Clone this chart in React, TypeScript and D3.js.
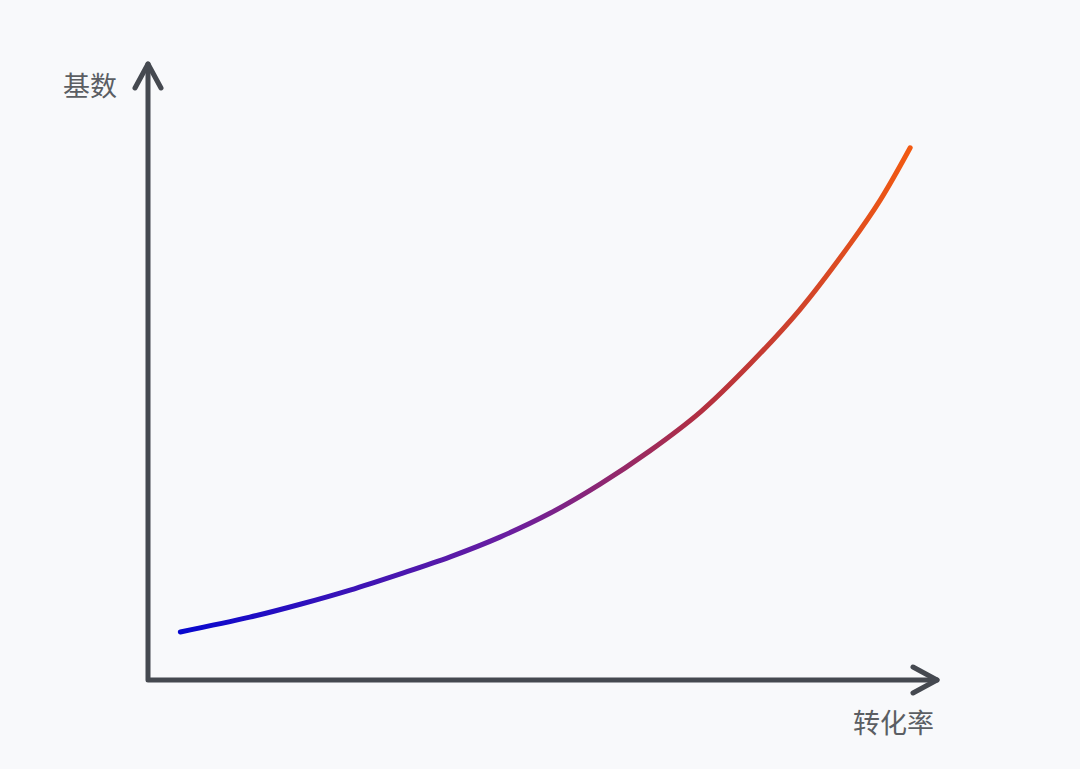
import { useRef, useEffect } from "react";
import * as d3 from "d3";

const WIDTH = 1080;
const HEIGHT = 769;

// curve samples, in axis units (0..100 on both axes)
const xValues = [4.1, 12.9, 19.3, 25.6, 31.9, 38.3, 44.6, 51.0, 57.3, 63.6, 70.0, 76.3, 82.6, 89.0, 92.8, 96.6];
const yValues = [7.8, 10.2, 12.3, 14.6, 17.2, 20.0, 23.2, 27.1, 31.8, 37.2, 43.5, 51.3, 60.1, 70.8, 77.9, 86.4];

const yLabel = "基数";
const xLabel = "转化率";

const gradientStops = [
  { offset: 0, color: "#0808cf" },
  { offset: 0.45, color: "#6a1ea0" },
  { offset: 0.72, color: "#b4303f" },
  { offset: 1, color: "#f25a12" },
];

export default function App() {
  const svgRef = useRef<SVGSVGElement>(null);

  useEffect(() => {
    if (!svgRef.current) return;
    const svg = d3.select(svgRef.current);
    svg.selectAll("*").remove();

    const axisColor = "#454950";
    const originX = 148;
    const originY = 680;

    const x = d3.scaleLinear().domain([0, 100]).range([originX, 937]);
    const y = d3.scaleLinear().domain([0, 100]).range([originY, 64]);

    svg.append("rect").attr("width", WIDTH).attr("height", HEIGHT).attr("fill", "#f8f9fb");

    // gradient along x
    const grad = svg
      .append("defs")
      .append("linearGradient")
      .attr("id", "curveGrad")
      .attr("gradientUnits", "userSpaceOnUse")
      .attr("x1", x(xValues[0]))
      .attr("y1", 0)
      .attr("x2", x(xValues[xValues.length - 1]))
      .attr("y2", 0);
    gradientStops.forEach((s) => {
      grad.append("stop").attr("offset", s.offset).attr("stop-color", s.color);
    });

    // axes
    const axes = svg
      .append("g")
      .attr("fill", "none")
      .attr("stroke", axisColor)
      .attr("stroke-width", 5)
      .attr("stroke-linecap", "round")
      .attr("stroke-linejoin", "round");

    axes
      .append("path")
      .attr("d", `M${x(0)},${y(100)} L${x(0)},${y(0)} L${x(100)},${y(0)}`);
    // arrow heads
    axes
      .append("path")
      .attr("d", `M${x(0) - 13},${y(100) + 24} L${x(0)},${y(100)} L${x(0) + 13},${y(100) + 24}`);
    axes
      .append("path")
      .attr("d", `M${x(100) - 24},${y(0) - 13} L${x(100)},${y(0)} L${x(100) - 24},${y(0) + 13}`);

    // curve
    const line = d3
      .line<number>()
      .x((_, i) => x(xValues[i]))
      .y((d) => y(d))
      .curve(d3.curveCatmullRom.alpha(0.5));

    svg
      .append("path")
      .attr("d", line(yValues))
      .attr("fill", "none")
      .attr("stroke", "url(#curveGrad)")
      .attr("stroke-width", 5)
      .attr("stroke-linecap", "round");

    // labels
    const font = "'Noto Sans CJK SC', 'Noto Sans', sans-serif";
    svg
      .append("text")
      .attr("x", 117)
      .attr("y", 96)
      .attr("text-anchor", "end")
      .attr("font-family", font)
      .attr("font-size", 27)
      .attr("fill", "#5b5e63")
      .text(yLabel);

    svg
      .append("text")
      .attr("x", 934)
      .attr("y", 733)
      .attr("text-anchor", "end")
      .attr("font-family", font)
      .attr("font-size", 27)
      .attr("fill", "#5b5e63")
      .text(xLabel);
  }, []);

  return (
    <div style={{ position: "absolute", left: 0, top: 0 }}>
      <svg ref={svgRef} width={WIDTH} height={HEIGHT} style={{ display: "block" }} />
    </div>
  );
}
